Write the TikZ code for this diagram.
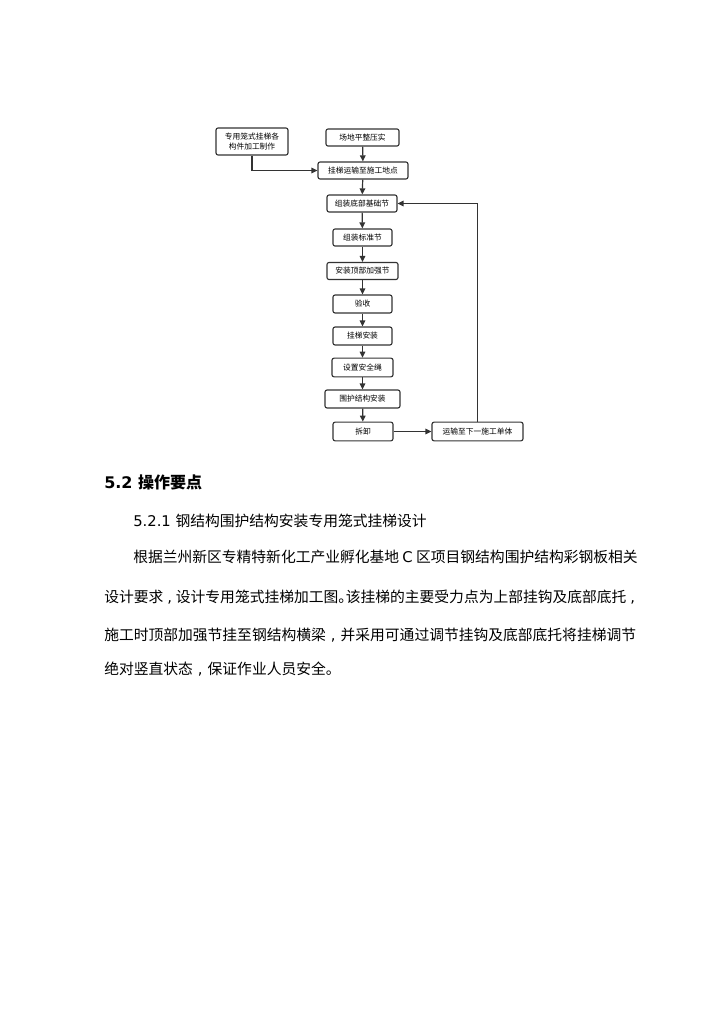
\documentclass[tikz,border=0pt]{standalone}
\usepackage{fontspec}
\setmainfont{DejaVu Sans}
\newfontfamily\cjk{Noto Sans CJK SC}
\newfontfamily\lat{DejaVu Sans}
\newcommand{\cm}[1][1em]{\makebox[#1][c]{\lat ,}}
\newcommand{\jh}{\makebox[0.5em][l]{。}}
\usetikzlibrary{arrows.meta}
\begin{document}
\begin{tikzpicture}[x=0.75pt,y=-0.75pt,
  box/.style={draw=black!80, line width=0.85pt, rounded corners=1.6pt, fill=white,
    minimum height=12.8pt, inner sep=1pt, font=\cjk\fontsize{5.8}{7}\selectfont, align=center},
  conn/.style={draw=black!80, line width=0.9pt, -{Triangle[length=4.5pt,width=4.2pt]}},
  body/.style={anchor=west, inner sep=0pt, font=\cjk\fontsize{11.08}{13}\selectfont}]
\useasboundingbox[fill=white] (0,0) rectangle (724,1024);
% flowchart
\node[box, minimum width=54pt, minimum height=20.3pt] (a) at (252,141.5) {专用笼式挂梯各\\构件加工制作};
\node[box, minimum width=54.8pt] (b) at (362.5,137.5) {场地平整压实};
\node[box, minimum width=67.5pt] (c) at (363,170.5) {挂梯运输至施工地点};
\node[box, minimum width=52.5pt] (d) at (362,203.5) {组装底部基础节};
\node[box, minimum width=44.3pt] (e) at (362.5,237.5) {组装标准节};
\node[box, minimum width=53.3pt] (f) at (362.5,271) {安装顶部加强节};
\node[box, minimum width=44.3pt, minimum height=13.5pt] (g) at (362.5,304) {验收};
\node[box, minimum width=44.3pt, minimum height=13.5pt] (h) at (362.5,336) {挂梯安装};
\node[box, minimum width=45.8pt, minimum height=14pt] (i) at (362.5,367.5) {设置安全绳};
\node[box, minimum width=56.3pt, minimum height=13.5pt] (j) at (362.5,399) {围护结构安装};
\node[box, minimum width=45pt, minimum height=14pt] (k) at (363,431.5) {拆卸};
\node[box, minimum width=68.3pt, minimum height=14pt] (l) at (477.5,431.5) {运输至下一施工单体};
\draw[conn] (a.south) |- (c.west);
\draw[conn] (b) -- (c);
\draw[conn] (c) -- (d);
\draw[conn] (d) -- (e);
\draw[conn] (e) -- (f);
\draw[conn] (f) -- (g);
\draw[conn] (g) -- (h);
\draw[conn] (h) -- (i);
\draw[conn] (i) -- (j);
\draw[conn] (j) -- (k);
\draw[conn] (k) -- (l);
\draw[conn] (l.north) |- (d.east);
% text
\node[anchor=west, inner sep=0pt, font=\bfseries\fontsize{12}{14}\selectfont] (h1) at (104,482) {\lat 5.2 \cjk 操作要点};
\node[body] (h2) at (133,521) {\lat 5.2.1 \cjk 钢结构围护结构安装专用笼式挂梯设计};
\node[body] (p1) at (133,557) {根据兰州新区专精特新化工产业孵化基地 {\lat C} 区项目钢结构围护结构彩钢板相关};
\node[body] (p2) at (104,597) {设计要求\cm[0.85em]设计专用笼式挂梯加工图\jh 该挂梯的主要受力点为上部挂钩及底部底托\cm[0.85em]};
\node[body] (p3) at (104,635) {施工时顶部加强节挂至钢结构横梁\cm 并采用可通过调节挂钩及底部底托将挂梯调节};
\node[body] (p4) at (104,669) {绝对竖直状态\cm 保证作业人员安全。};
\end{tikzpicture}
\end{document}
